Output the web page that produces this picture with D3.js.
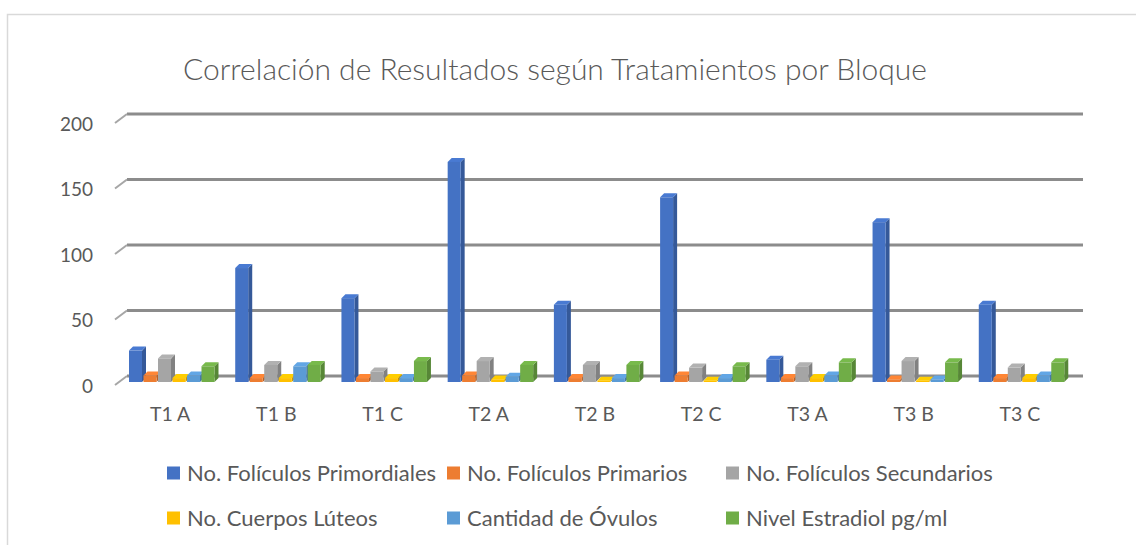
<!DOCTYPE html>
<html>
<head>
<meta charset="utf-8">
<script src="https://cdn.jsdelivr.net/npm/d3@7"></script>
<style>
  html, body { margin: 0; padding: 0; background: #fff; }
  svg { display: block; font-family: Lato, "Open Sans", sans-serif; }
</style>
</head>
<body>
<div id="wrap"></div>
<script>
const categories = ["T1 A", "T1 B", "T1 C", "T2 A", "T2 B", "T2 C", "T3 A", "T3 B", "T3 C"];
const seriesNames = [
  "No. Folículos Primordiales",
  "No. Folículos Primarios",
  "No. Folículos Secundarios",
  "No. Cuerpos Lúteos",
  "Cantidad de Óvulos",
  "Nivel Estradiol pg/ml",
];
const primordiales = [24, 87, 64, 168, 59, 141, 17, 122, 59];
const primarios = [5, 3, 3, 5, 3, 5, 3, 2, 3];
const secundarios = [18, 13, 8, 16, 13, 11, 12, 16, 11];
const luteos = [3, 3, 3, 2, 1, 1, 3, 1, 3];
const ovulos = [5, 12, 3, 4, 3, 3, 5, 2, 5];
const estradiol = [12, 13, 16, 13, 13, 12, 15, 15, 15];
const yTicks = [0, 50, 100, 150, 200];
const colors = ["#4472C4", "#ED7D31", "#A5A5A5", "#FFC000", "#5B9BD5", "#70AD47"];

const seriesValues = [primordiales, primarios, secundarios, luteos, ovulos, estradiol];

const width = 1136;
const height = 545;
const plot = { left: 127, right: 1083, top: 114, bottom: 376 };
const front = { dx: -8, dy: 6 }; // front plane offset from back wall
const depth = 4;

const svg = d3.select("#wrap").append("svg")
  .attr("width", width).attr("height", height);

// chart border (cut off at right and bottom)
svg.append("rect")
  .attr("x", 7.5).attr("y", 14.5)
  .attr("width", width + 10).attr("height", height + 10)
  .attr("fill", "none").attr("stroke", "#d9d9d9").attr("stroke-width", 1.5);

svg.append("text")
  .attr("x", 555).attr("y", 80)
  .attr("text-anchor", "middle")
  .attr("font-size", 30).attr("font-weight", 300)
  .attr("fill", "#595959")
  .text("Correlación de Resultados según Tratamientos por Bloque");

const x = d3.scaleBand(categories, [plot.left, plot.right]);
const xInner = d3.scaleBand(d3.range(seriesNames.length), [10, 97]);
const y = d3.scaleLinear([0, 200], [plot.bottom, plot.top]);

// gridlines on back wall + floor stubs
const grid = svg.append("g");
grid.selectAll("line.g")
  .data(yTicks)
  .join("line")
  .attr("class", "g")
  .attr("x1", plot.left).attr("x2", plot.right)
  .attr("y1", (d) => y(d)).attr("y2", (d) => y(d))
  .attr("stroke", "#8c8c8c").attr("stroke-width", 3);
grid.selectAll("line.s")
  .data(yTicks)
  .join("line")
  .attr("class", "s")
  .attr("x1", plot.left).attr("x2", plot.left - 12)
  .attr("y1", (d) => y(d)).attr("y2", (d) => y(d) + 9)
  .attr("stroke", "#a6a6a6").attr("stroke-width", 2);

// y axis labels
const leftAxis = d3.axisLeft(y).tickValues(yTicks).tickSize(0).tickPadding(0);
svg.append("g")
  .attr("transform", `translate(93, 10)`)
  .call(leftAxis)
  .call((g) => g.select(".domain").remove())
  .selectAll("text")
  .attr("font-size", 19).attr("font-family", "Lato, 'Open Sans', sans-serif")
  .attr("fill", "#595959");

// x axis labels
const bottomAxis = d3.axisBottom(x).tickSize(0).tickPadding(0);
svg.append("g")
  .attr("transform", `translate(${front.dx - 2}, 407)`)
  .call(bottomAxis)
  .call((g) => g.select(".domain").remove())
  .selectAll("text")
  .attr("font-size", 19.5).attr("font-family", "Lato, 'Open Sans', sans-serif")
  .attr("fill", "#595959");

// 3D-ish bars
const barW = xInner.bandwidth() - 1.5;
const base = y(0) + front.dy;
const bars = [];
categories.forEach((c, ci) => {
  seriesValues.forEach((vals, si) => {
    bars.push({ c, si, v: vals[ci] });
  });
});

const barG = svg.append("g").selectAll("g")
  .data(bars)
  .join("g");

barG.each(function (d) {
  const g = d3.select(this);
  const x0 = x(d.c) + xInner(d.si) + front.dx;
  const top = y(d.v) + front.dy;
  const col = d3.color(colors[d.si]);
  g.append("polygon")
    .attr("points", [
      [x0 + barW, top], [x0 + barW + depth, top - depth],
      [x0 + barW + depth, base - depth], [x0 + barW, base],
    ].join(" "))
    .attr("fill", col.darker(0.7));
  g.append("polygon")
    .attr("points", [
      [x0, top], [x0 + depth, top - depth],
      [x0 + barW + depth, top - depth], [x0 + barW, top],
    ].join(" "))
    .attr("fill", col.brighter(0.2));
  g.append("rect")
    .attr("x", x0).attr("y", top)
    .attr("width", barW).attr("height", Math.max(0, base - top))
    .attr("fill", col);
});

// legend
const legendPos = [
  [167, 473], [447, 473], [726, 473],
  [167, 518], [447, 518], [726, 518],
];
const legend = svg.append("g").selectAll("g")
  .data(seriesNames)
  .join("g")
  .attr("transform", (d, i) => `translate(${legendPos[i][0]}, ${legendPos[i][1]})`);
legend.append("rect")
  .attr("x", 0).attr("y", -6.5)
  .attr("width", 13).attr("height", 13)
  .attr("fill", (d, i) => colors[i]);
legend.append("text")
  .attr("x", 20).attr("y", 7.5)
  .attr("font-size", 22)
  .attr("fill", "#595959")
  .text((d) => d);
</script>
</body>
</html>
